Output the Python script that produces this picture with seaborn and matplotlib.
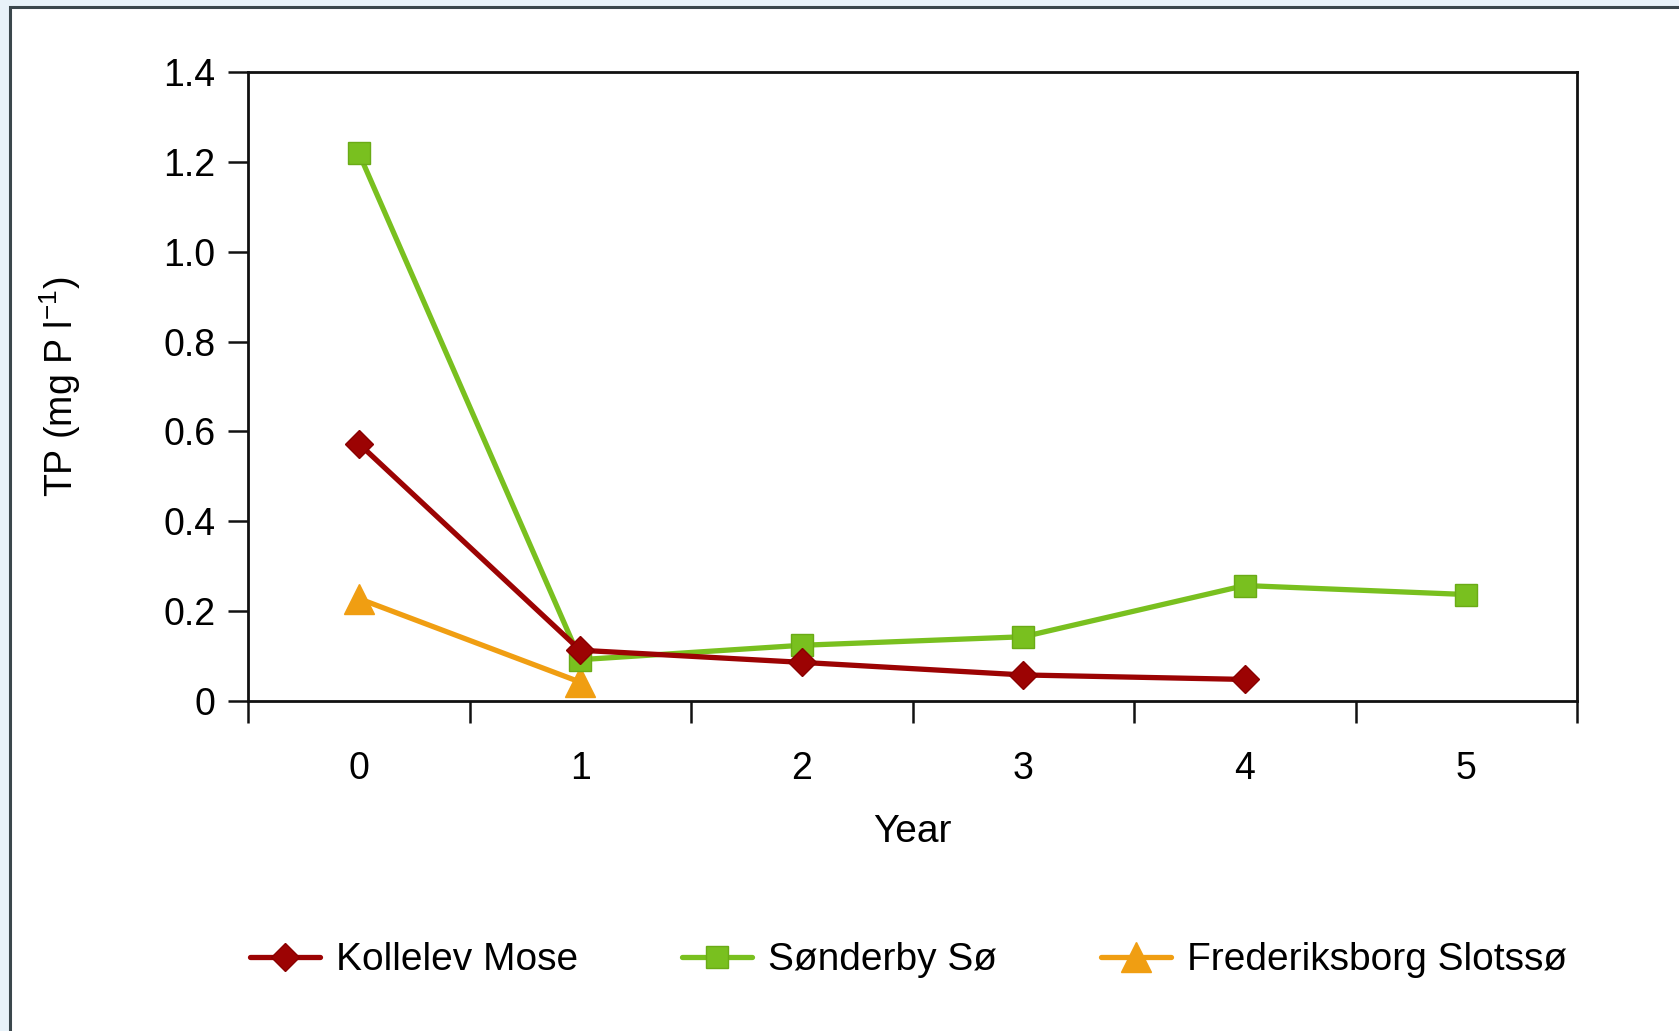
import matplotlib
matplotlib.use("Agg")
import matplotlib.pyplot as plt
from matplotlib.patches import Rectangle
from matplotlib.ticker import FixedLocator, FixedFormatter
import seaborn as sns
import pandas as pd

# Total phosphorus after lake restoration, per year
years_kollelev = [0, 1, 2, 3, 4]
tp_kollelev = [0.573, 0.113, 0.086, 0.058, 0.048]

years_sonderby = [0, 1, 2, 3, 4, 5]
tp_sonderby = [1.22, 0.092, 0.124, 0.143, 0.257, 0.237]

years_frederiksborg = [0, 1]
tp_frederiksborg = [0.228, 0.042]

series_names = ["Kollelev Mose", "Sønderby Sø", "Frederiksborg Slotssø"]
year_ticks = [0, 1, 2, 3, 4, 5]
tp_ticks = [0, 0.2, 0.4, 0.6, 0.8, 1.0, 1.2, 1.4]
tp_tick_labels = ["0", "0.2", "0.4", "0.6", "0.8", "1.0", "1.2", "1.4"]

sns.set_style("ticks")
plt.rcParams["font.family"] = ["Liberation Sans", "DejaVu Sans"]
plt.rcParams["text.color"] = "black"
plt.rcParams["axes.labelcolor"] = "black"
plt.rcParams["xtick.color"] = "black"
plt.rcParams["ytick.color"] = "black"

fig = plt.figure(figsize=(16.79, 10.31), dpi=100)
fig.patch.set_facecolor("#e8f2f9")
fig.patches.append(Rectangle((10 / 1679, -0.1), 1.2, 1 - 7 / 1031 + 0.1,
                             transform=fig.transFigure, facecolor="white",
                             edgecolor="#3b474c", linewidth=2.2, zorder=-10))

ax = fig.add_axes([248 / 1679, 1 - 701 / 1031, 1329 / 1679, 629 / 1031])
ax.set_facecolor("white")

styles = [
    dict(color="#9c0303", marker="D", markersize=14, mec="#8a0000"),
    dict(color="#79c01f", marker="s", markersize=16.5, mec="#6aab16"),
    dict(color="#f09e12", marker="^", markersize=22, mec="#f09e12"),
]
data = [(years_kollelev, tp_kollelev), (years_sonderby, tp_sonderby),
        (years_frederiksborg, tp_frederiksborg)]

for name, (xs, ys), st in zip(series_names, data, styles):
    df = pd.DataFrame({"Year": xs, "TP": ys})
    sns.lineplot(data=df, x="Year", y="TP", ax=ax, label=name,
                 color=st["color"], marker=st["marker"],
                 markersize=st["markersize"], markeredgecolor=st["mec"],
                 markeredgewidth=1, linewidth=3.8, zorder=3, clip_on=False)

# Reverse z-order so the first series sits on top
for i, line in enumerate(ax.get_lines()):
    line.set_zorder(5 - i)

ax.set_xlim(-0.5, 5.5)
ax.set_ylim(0, 1.4)

# Category labels at integer years, tick marks between the categories
ax.xaxis.set_major_locator(FixedLocator(year_ticks))
ax.xaxis.set_major_formatter(FixedFormatter([str(y) for y in year_ticks]))
ax.xaxis.set_minor_locator(FixedLocator([y - 0.5 for y in year_ticks] + [5.5]))
ax.tick_params(axis="x", which="major", length=0, pad=36, labelsize=27)
ax.tick_params(axis="x", which="minor", length=15.5, width=1.8,
               direction="out", color="#111111")

ax.yaxis.set_major_locator(FixedLocator(tp_ticks))
ax.yaxis.set_major_formatter(FixedFormatter(tp_tick_labels))
ax.tick_params(axis="y", which="major", length=14.5, width=1.8, pad=9,
               direction="out", labelsize=27, color="#111111")

for side in ["left", "right", "top", "bottom"]:
    ax.spines[side].set_visible(True)
    ax.spines[side].set_linewidth(2.0)
    ax.spines[side].set_color("#111111")

ax.set_xlabel("Year", fontsize=28)
ax.set_ylabel(r"TP (mg P l$^{\mathregular{-1}}$)", fontsize=27)
ax.xaxis.set_label_coords(0.5, -0.179)
ax.yaxis.set_label_coords(-0.124, 0.5)

leg = ax.legend(loc="center", bbox_to_anchor=(0.497, -0.412), ncol=3,
                frameon=False, fontsize=28, handlelength=1.8,
                handletextpad=0.41, columnspacing=2.68)
for h in leg.legend_handles:
    h.set_linewidth(3.8)

fig.savefig("out.png", dpi=100, facecolor=fig.get_facecolor())
